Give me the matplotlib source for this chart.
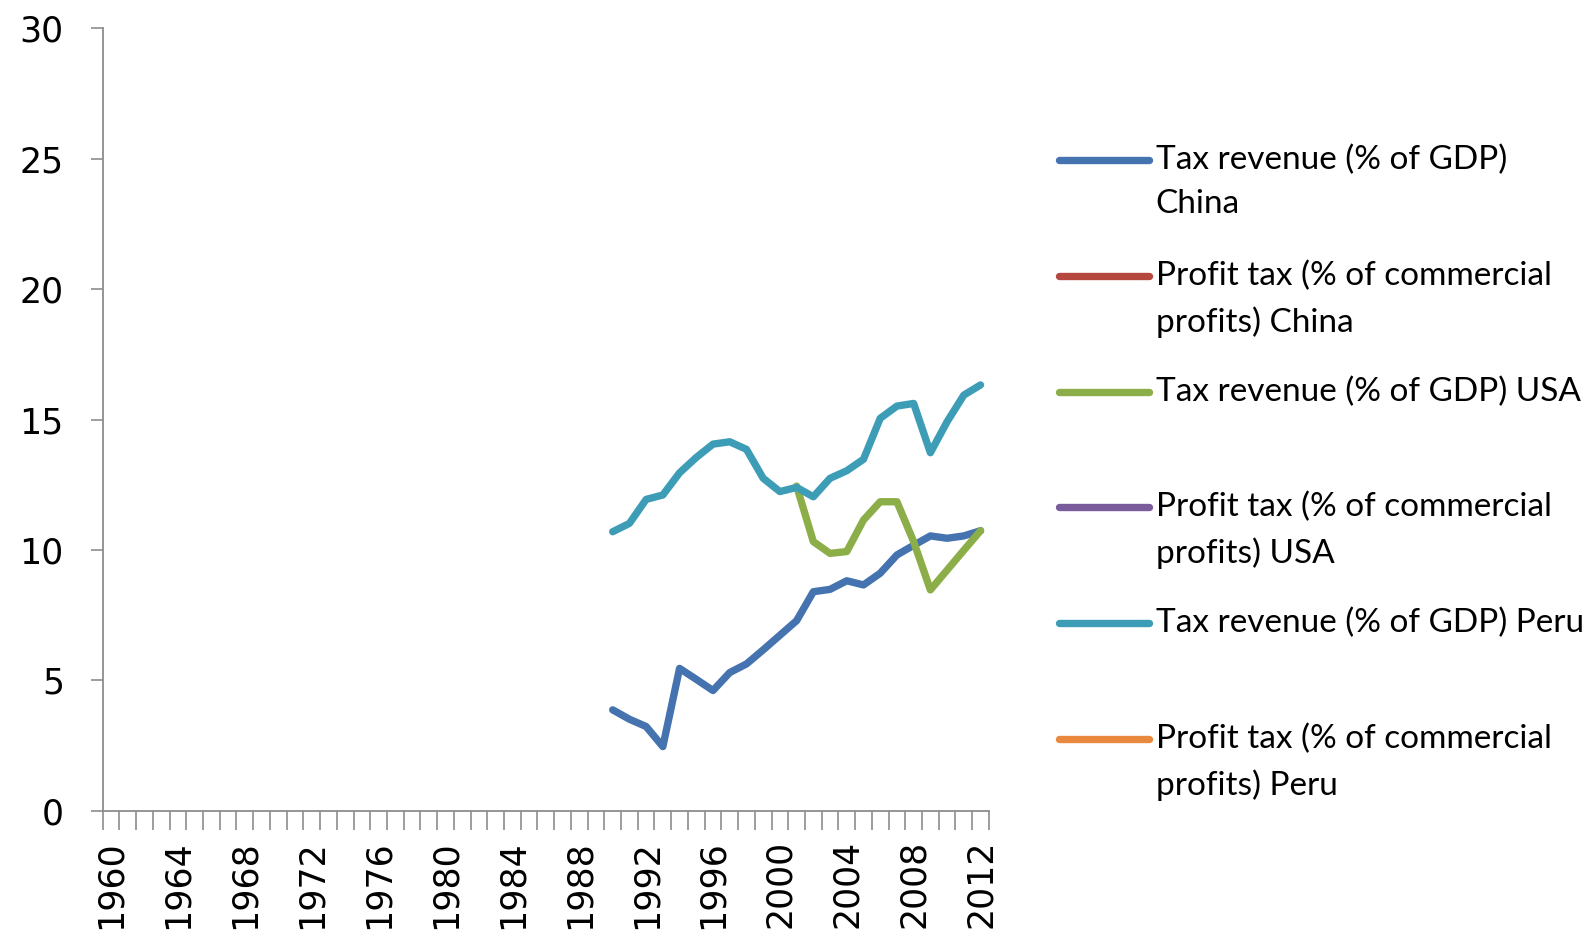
import matplotlib
matplotlib.use("Agg")
import matplotlib.pyplot as plt
from matplotlib.lines import Line2D
import numpy as np

plt.rcParams['font.family'] = ['Lato', 'DejaVu Sans']

years = np.arange(1960, 2013)
yrs_china = np.arange(1990, 2013)
china_tax = [3.87, 3.51, 3.23, 2.46, 5.46, 5.04, 4.61, 5.30, 5.63, 6.17, 6.73, 7.29,
             8.40, 8.49, 8.82, 8.66, 9.11, 9.81, 10.18, 10.54, 10.45, 10.54, 10.74]
yrs_peru = np.arange(1990, 2013)
peru_tax = [10.70, 11.02, 11.94, 12.11, 12.96, 13.55, 14.06, 14.15, 13.86, 12.75, 12.24, 12.40,
            12.04, 12.75, 13.04, 13.48, 15.05, 15.52, 15.62, 13.73, 14.92, 15.94, 16.33]
yrs_usa = np.arange(2001, 2013)
usa_tax = [12.45, 10.32, 9.87, 9.94, 11.15, 11.85, 11.85, 10.32, 8.47, 9.23, 9.99, 10.74]
# profit tax series have no visible data
profit_china = []
profit_usa = []
profit_peru = []

labels = ["Tax revenue (% of GDP)\nChina",
          "Profit tax (% of commercial\nprofits) China",
          "Tax revenue (% of GDP) USA",
          "Profit tax (% of commercial\nprofits) USA",
          "Tax revenue (% of GDP) Peru",
          "Profit tax (% of commercial\nprofits) Peru"]
colors = ['#4573B0', '#B5473F', '#8CAE48', '#7A5C9C', '#3E9DB6', '#E8893E']

fig = plt.figure(figsize=(15.95, 9.36), dpi=100)
ax = fig.add_axes([0.0644, 0.1338, 0.5556, 0.8358])

ax.plot(yrs_china, china_tax, color=colors[0], lw=5.3, solid_capstyle='round', solid_joinstyle='round')
ax.plot(yrs_usa, usa_tax, color=colors[2], lw=5.3, solid_capstyle='round', solid_joinstyle='round')
ax.plot(yrs_peru, peru_tax, color=colors[4], lw=5.3, solid_capstyle='round', solid_joinstyle='round')

ax.set_xlim(1959.5, 2012.5)
ax.set_ylim(0, 30)
ax.set_yticks(range(0, 31, 5))
ax.set_xticks(years[::4])
ax.set_xticklabels([str(y) for y in years[::4]], rotation=90)
ax.set_xticks(np.arange(1959.5, 2013, 1), minor=True)

axis_col = '#8C8C8C'
for s in ['top', 'right']:
    ax.spines[s].set_visible(False)
for s in ['left', 'bottom']:
    ax.spines[s].set_color(axis_col)
    ax.spines[s].set_linewidth(1.3)
ax.tick_params(axis='x', which='major', length=0, pad=21, labelsize=25)
ax.tick_params(axis='x', which='minor', length=14, width=1.2, color=axis_col)
ax.tick_params(axis='y', which='major', length=9, width=1.2, color=axis_col, pad=19, labelsize=25)
for t in ax.get_xticklabels() + ax.get_yticklabels():
    t.set_family('DejaVu Sans')

# legend drawn at right side
leg_y = [0.8294, 0.7055, 0.5815, 0.4587, 0.3348, 0.2109]
for lab, col, yy in zip(labels, colors, leg_y):
    fig.add_artist(Line2D([0.664, 0.7205], [yy, yy], color=col, lw=5.3,
                          solid_capstyle='round', transform=fig.transFigure))
    fig.text(0.7245, yy + 0.0162, lab, fontsize=24, va='top', ha='left', linespacing=1.6)

fig.savefig("out.png", dpi=100)
